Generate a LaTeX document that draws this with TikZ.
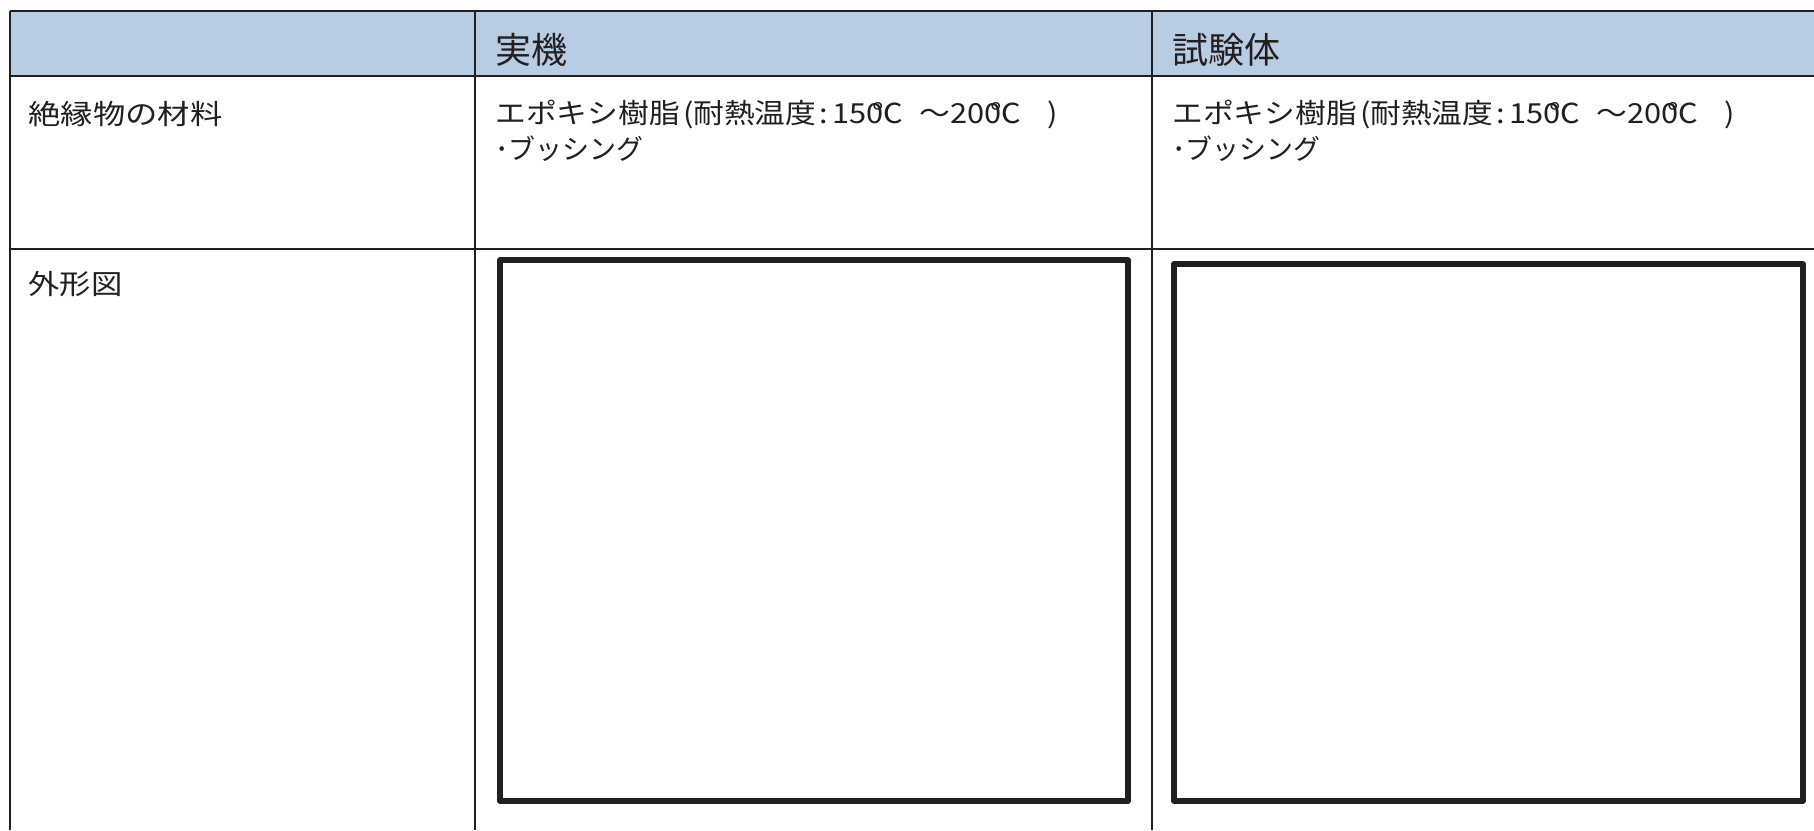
\documentclass[tikz,border=0pt]{standalone}
\usepackage{graphicx}
\usepackage{fontspec}
\setmainfont{Noto Sans CJK JP}
\definecolor{linegray}{HTML}{231F20}
\definecolor{headblue}{HTML}{B8CCE4}
\tikzset{
  tableline/.style={draw=linegray, line width=1pt},
  figbox/.style={draw=linegray, line width=2.6pt, line join=round},
  headtext/.style={anchor=west, inner sep=0pt, font=\fontsize{18pt}{21pt}\selectfont, text=linegray},
  bodytext/.style={anchor=west, inner sep=0pt, font=\fontsize{13.8pt}{16pt}\selectfont, text=linegray},
}
\newcommand{\degc}{\kern-0.38em ℃\kern0.55em}
\newcommand{\fitw}[2]{\resizebox{#1}{\height}{#2}}
\newcommand{\matline}{\fitw{281pt}{エポキシ樹脂\kern0.1em(耐熱温度\kern0.1em:\kern0.15em150\degc～200\degc\kern0.3em)}}
\begin{document}
\begin{tikzpicture}[x=0.5pt,y=-0.5pt]
\useasboundingbox (0,0) rectangle (1814,830);
% header band
\fill[headblue] (9.5,11) rectangle (1814,76);
% table grid
\coordinate (tl) at (9.5,11);
\coordinate (tr) at (1814,11);
\coordinate (bl) at (9.5,830);
\coordinate (hl) at (9.5,76);
\coordinate (hr) at (1814,76);
\coordinate (rl) at (9.5,249);
\coordinate (rr) at (1814,249);
\coordinate (c1t) at (475,11);
\coordinate (c1b) at (475,830);
\coordinate (c2t) at (1152,11);
\coordinate (c2b) at (1152,830);
\draw[tableline] (tl) -- (tr);
\draw[tableline] (tl) -- (bl);
\draw[tableline] (hl) -- (hr);
\draw[tableline] (rl) -- (rr);
\draw[tableline] (c1t) -- (c1b);
\draw[tableline] (c2t) -- (c2b);
% header texts
\node[headtext] (h1) at (495,50) {実機};
\node[headtext] (h2) at (1172,50) {試験体};
% row labels
\node[bodytext] (r1) at (28,114) {\fitw{97pt}{絶縁物の材料}};
\node[bodytext] (r2) at (28,284) {\fitw{47pt}{外形図}};
% body texts
\node[bodytext] (a1) at (495,114) {\matline};
\node[bodytext] (a2) at (495,149) {\fitw{74pt}{･ブッシング}};
\node[bodytext] (b1) at (1172,114) {\matline};
\node[bodytext] (b2) at (1172,149) {\fitw{74pt}{･ブッシング}};
% figure boxes
\draw[figbox] (500,260) rectangle (1128,801);
\draw[figbox] (1174,264) rectangle (1803,801);
\end{tikzpicture}
\end{document}
